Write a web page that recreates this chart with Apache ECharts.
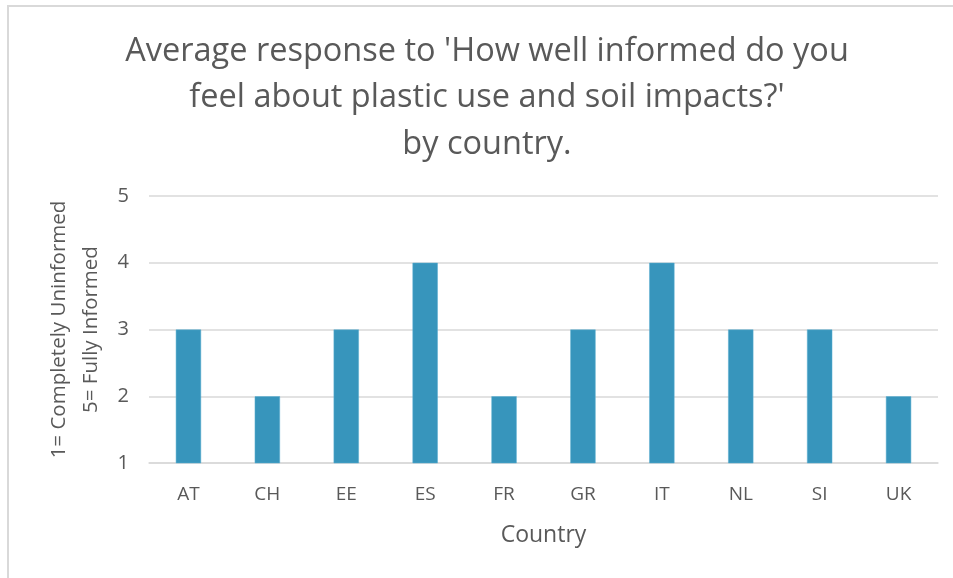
<!DOCTYPE html>
<html>
<head>
<meta charset="utf-8">
<script src="https://cdn.jsdelivr.net/npm/echarts@6/dist/echarts.min.js"></script>
<style>
  html, body { margin: 0; padding: 0; background: #fff; }
  #frame { position: absolute; left: 7px; top: 5px; right: 0; bottom: 0; border-top: 2px solid #d9d9d9; border-left: 2px solid #d9d9d9; }
  #chart { position: absolute; left: 0; top: 0; width: 953px; height: 578px; }
</style>
</head>
<body>
<div id="frame"></div>
<div id="chart"></div>
<script>
// Average self-rated knowledge per country (1 = completely uninformed, 5 = fully informed)
const countries = ['AT', 'CH', 'EE', 'ES', 'FR', 'GR', 'IT', 'NL', 'SI', 'UK'];
const averageResponse = [3, 2, 3, 4, 2, 3, 4, 3, 3, 2];
const yTicks = [1, 2, 3, 4, 5];

const textColor = '#595959';
const fontFamily = '"Open Sans", "Noto Sans", sans-serif';

const chart = echarts.init(document.getElementById('chart'), null, { renderer: 'canvas' });
chart.setOption({
  animation: false,
  title: {
    text: "Average response to 'How well informed do you\nfeel about plastic use and soil impacts?'\nby country.",
    left: 482,
    top: 23,
    textAlign: 'center',
    textStyle: { color: textColor, fontSize: 32.5, fontWeight: 'normal', fontFamily: fontFamily, lineHeight: 46.5 }
  },
  grid: { left: 149, right: 15, top: 196, bottom: 115 },
  xAxis: {
    type: 'category',
    data: countries,
    name: 'Country',
    nameLocation: 'middle',
    nameGap: 61,
    nameTextStyle: { color: textColor, fontSize: 23, fontFamily: fontFamily },
    axisLine: { lineStyle: { color: '#d9d9d9', width: 1.5 } },
    axisTick: { show: false },
    axisLabel: { color: textColor, fontSize: 19, fontFamily: fontFamily, margin: 22 }
  },
  yAxis: {
    type: 'value',
    min: yTicks[0],
    max: yTicks[yTicks.length - 1],
    interval: 1,
    name: '1= Completely Uninformed\n5= Fully Informed',
    nameLocation: 'middle',
    nameGap: 39,
    nameTextStyle: { color: textColor, fontSize: 20.5, fontFamily: fontFamily, lineHeight: 32 },
    axisLine: { show: false },
    axisTick: { show: false },
    axisLabel: { color: textColor, fontSize: 20, fontFamily: fontFamily, margin: 20 },
    splitLine: { lineStyle: { color: '#d9d9d9', width: 1.5 } }
  },
  series: [{
    type: 'bar',
    data: averageResponse,
    barWidth: '32%',
    itemStyle: { color: '#3795bc', borderColor: '#5aaed0', borderWidth: 0.5 }
  }]
});
</script>
</body>
</html>
